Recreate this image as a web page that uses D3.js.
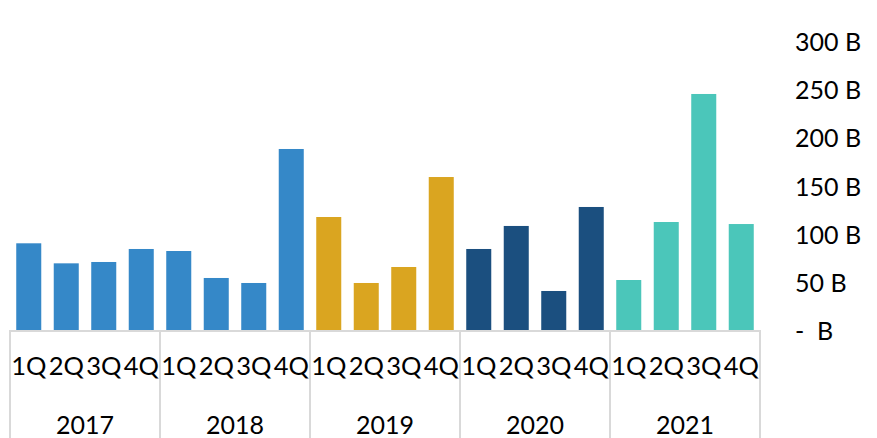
<!DOCTYPE html>
<html>
<head>
<meta charset="utf-8">
<script src="https://cdn.jsdelivr.net/npm/d3@7"></script>
<style>
    body { margin: 0; background: #fff; }
    svg text { font-family: Lato, "Open Sans", sans-serif; }
</style>
</head>
<body>
<script>
// quarterly values (billions)
const years = ["2017", "2018", "2019", "2020", "2021"];
const quarters = ["1Q", "2Q", "3Q", "4Q"];
const values2017 = [90.0, 69.2, 70.6, 84.1];
const values2018 = [82.0, 54.0, 48.8, 187.9];
const values2019 = [117.3, 48.8, 65.4, 158.8];
const values2020 = [84.1, 108.0, 40.5, 127.7];
const values2021 = [51.9, 112.1, 245.0, 110.0];
const valueTicks = [0, 50, 100, 150, 200, 250, 300];

const yearColors = ["#3588c8", "#3588c8", "#daa520", "#1b4f7f", "#4bc6ba"];

const width = 877,
    height = 438,
    margin = ({ top: 41, right: 117, bottom: 108, left: 10 })

const series = [values2017, values2018, values2019, values2020, values2021];
const data = years.flatMap((yr, i) => quarters.map((q, j) => ({
    key: yr + "-" + q, year: yr, quarter: q, value: series[i][j], color: yearColors[i]
})));

const x = d3.scaleBand()
    .domain(data.map(d => d.key))
    .range([margin.left, width - margin.right])
    .paddingInner(0.333)
    .paddingOuter(0.1665)

const xYear = d3.scaleBand()
    .domain(years)
    .range([margin.left, width - margin.right])

const y = d3.scaleLinear()
    .domain([0, 300])
    .range([height - margin.bottom, margin.top])

const svg = d3.select("body").append("svg")
    .attr("width", width)
    .attr("height", height)
    .attr("viewBox", [0, 0, width, height]);

// bars
svg.append("g")
    .selectAll("rect")
    .data(data)
    .join("rect")
    .attr("x", d => x(d.key))
    .attr("y", d => y(d.value))
    .attr("width", x.bandwidth())
    .attr("height", d => y(0) - y(d.value))
    .attr("fill", d => d.color)

// category axis line and year dividers
const grid = "#d9d9d9";
svg.append("line")
    .attr("x1", margin.left).attr("x2", width - margin.right)
    .attr("y1", y(0) + 1).attr("y2", y(0) + 1)
    .attr("stroke", grid)
    .attr("stroke-width", 2)

svg.append("g")
    .selectAll("line")
    .data(years.map(yr => xYear(yr)).concat([xYear.range()[1]]))
    .join("line")
    .attr("x1", d => d).attr("x2", d => d)
    .attr("y1", y(0)).attr("y2", height)
    .attr("stroke", grid)
    .attr("stroke-width", 2)

// quarter labels
const quarterAxis = g => g
    .attr("transform", `translate(0, ${y(0)})`)
    .call(d3.axisBottom(x).tickSize(0).tickPadding(27).tickFormat(k => k.split("-")[1]))
    .call(g => g.select(".domain").remove())
    .call(g => g.selectAll("text")
        .attr("font-size", 25.5)
        .attr("fill", "#000"))

// year labels
const yearAxis = g => g
    .attr("transform", `translate(0, ${y(0)})`)
    .call(d3.axisBottom(xYear).tickSize(0).tickPadding(86))
    .call(g => g.select(".domain").remove())
    .call(g => g.selectAll("text")
        .attr("font-size", 25)
        .attr("fill", "#000"))

// value axis on the right
const yAxis = g => g
    .attr("transform", `translate(795, 1.5)`)
    .call(d3.axisRight(y).tickValues(valueTicks).tickSize(0).tickPadding(0)
        .tickFormat(v => v === 0 ? "-\u00a0\u00a0B" : v + " B"))
    .call(g => g.select(".domain").remove())
    .call(g => g.selectAll("text")
        .attr("font-size", 25)
        .attr("fill", "#000"))

svg.append("g").call(quarterAxis);
svg.append("g").call(yearAxis);
svg.append("g").call(yAxis);
</script>
</body>
</html>
